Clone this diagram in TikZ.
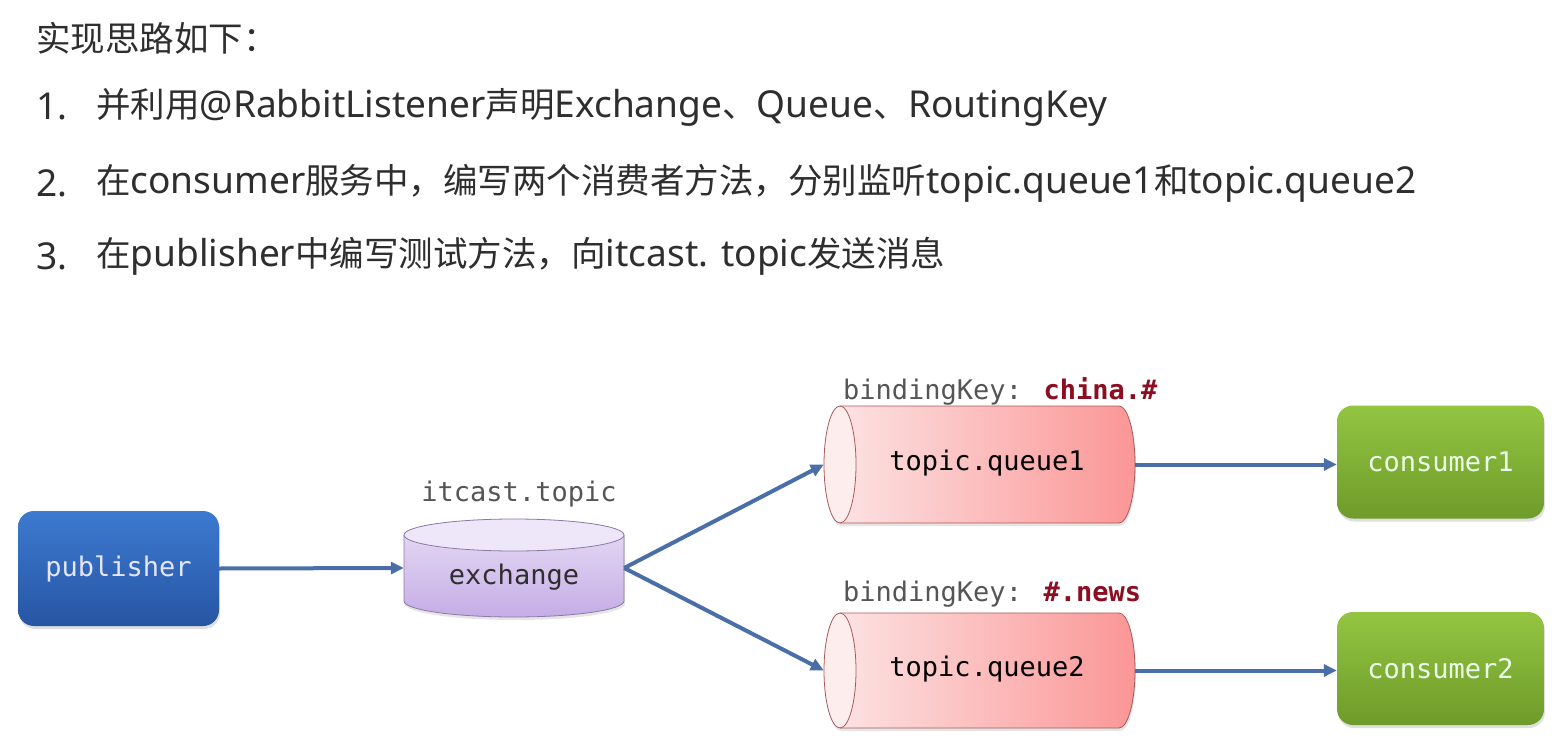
\documentclass[tikz,border=0pt]{standalone}
\usepackage{fontspec}
\setmainfont{Noto Sans CJK SC}
\newfontfamily\latf[Scale=1.075]{Noto Sans}
\newcommand\latn[1]{{\latf #1}}
\newfontfamily\monof{DejaVu Sans Mono}
\usetikzlibrary{arrows.meta,shadows}
\definecolor{arrowc}{HTML}{4A6FA8}
\definecolor{txtc}{HTML}{2E2E2E}
\definecolor{pubT}{HTML}{3C7AD0}
\definecolor{pubB}{HTML}{2755A3}
\definecolor{conT}{HTML}{93C541}
\definecolor{conB}{HTML}{6E9B2A}
\definecolor{qL}{HTML}{FDE6E6}
\definecolor{qR}{HTML}{FB9696}
\definecolor{qF}{HTML}{FDEDED}
\definecolor{qB}{HTML}{A85A5A}
\definecolor{exT}{HTML}{E8DDF6}
\definecolor{exB}{HTML}{C5ADE6}
\definecolor{exF}{HTML}{EEE6F9}
\definecolor{exD}{HTML}{8A7AA6}
\definecolor{lblc}{HTML}{555555}
\definecolor{keyc}{HTML}{8B0E22}
\begin{document}
\begin{tikzpicture}[x=1pt,y=-1pt,
  arr/.style={draw=arrowc, line width=4pt, -{Triangle[length=13pt,width=12pt]}},
  mono/.style={font=\monof\fontsize{27}{32}\selectfont},
  txt/.style={anchor=west, inner sep=0pt, text=txtc, font=\fontsize{34.5}{40}\selectfont},
  box/.style={rounded corners=16pt, minimum width=201pt, minimum height=115pt, inner sep=0pt,
    drop shadow={opacity=0.25, shadow xshift=1pt, shadow yshift=-3pt}, mono},
  anch/.style={draw=none, inner sep=0pt},
  shad/.style={drop shadow={opacity=0.2, shadow xshift=1pt, shadow yshift=-3pt}}
]
\useasboundingbox (0,0) rectangle (1552,754);
\fill[white] (0,0) rectangle (1552,754);

% heading text
\node[txt] (t0) at (36,38) {实现思路如下：};
\node[txt] (n1) at (36,107) {\latn{1.}};
\node[txt] (l1) at (96,107) {并利用\latn{@RabbitListener}声明\latn{Exchange}、\latn{Queue}、\latn{RoutingKey}};
\node[txt] (n2) at (36,183) {\latn{2.}};
\node[txt] (l2) at (96,183) {在\latn{consumer}服务中，编写两个消费者方法，分别监听\latn{topic.queue1}和\latn{topic.queue2}};
\node[txt] (n3) at (36,256) {\latn{3.}};
\node[txt] (l3) at (96,256) {在\latn{publisher}中编写测试方法，向\latn{itcast. topic}发送消息};

% publisher
\node[box, top color=pubT, bottom color=pubB, text=white!90!blue] (pub) at (118.5,568.5) {publisher};

% exchange cylinder
\shade[top color=exT, bottom color=exB, shad] (404,535) -- (404,601)
  arc[start angle=180, end angle=360, x radius=110pt, y radius=16pt] -- (624,535)
  arc[start angle=0, end angle=180, x radius=110pt, y radius=16pt] -- cycle;
\draw[exD, line width=0.8pt] (404,535) -- (404,601)
  arc[start angle=180, end angle=360, x radius=110pt, y radius=16pt] -- (624,535);
\filldraw[fill=exF, draw=exD, line width=0.8pt] (514,535) ellipse[x radius=110pt, y radius=16pt];
\node[anch, minimum width=220pt, minimum height=98pt] (ex) at (514,568) {};
\node[mono, text=txtc] (exl) at (514,577) {exchange};
\node[mono, text=lblc] (exn) at (519,494) {itcast.topic};

% queue1
\shade[left color=qL, right color=qR, shad] (840,406) -- (1119,406)
  arc[start angle=90, end angle=-90, x radius=16pt, y radius=58.5pt] -- (840,523)
  arc[start angle=-90, end angle=-270, x radius=16pt, y radius=58.5pt] -- cycle;
\draw[qB, line width=0.8pt] (840,406) -- (1119,406)
  arc[start angle=90, end angle=-90, x radius=16pt, y radius=58.5pt] -- (840,523);
\filldraw[fill=qF, draw=qB, line width=0.8pt] (840,464.5) ellipse[x radius=16pt, y radius=58.5pt];
\node[anch, minimum width=311pt, minimum height=117pt] (q1) at (979.5,464.5) {};
\node[mono, text=black] (q1l) at (987,463) {topic.queue1};
\node[mono, text=lblc, anchor=base west, inner sep=0pt] (k1) at (843,399) {bindingKey: \textcolor{keyc}{\textbf{china.\#}}};

% queue2
\shade[left color=qL, right color=qR, shad] (840,613) -- (1119,613)
  arc[start angle=90, end angle=-90, x radius=16pt, y radius=57.5pt] -- (840,728)
  arc[start angle=-90, end angle=-270, x radius=16pt, y radius=57.5pt] -- cycle;
\draw[qB, line width=0.8pt] (840,613) -- (1119,613)
  arc[start angle=90, end angle=-90, x radius=16pt, y radius=57.5pt] -- (840,728);
\filldraw[fill=qF, draw=qB, line width=0.8pt] (840,670.5) ellipse[x radius=16pt, y radius=57.5pt];
\node[anch, minimum width=311pt, minimum height=115pt] (q2) at (979.5,670.5) {};
\node[mono, text=black] (q2l) at (987,669) {topic.queue2};
\node[mono, text=lblc, anchor=base west, inner sep=0pt] (k2) at (843,601) {bindingKey: \textcolor{keyc}{\textbf{\#.news}}};

% consumers
\node[box, minimum width=207pt, minimum height=113pt, top color=conT, bottom color=conB, text=green!8!white] (c1) at (1440.5,462) {consumer1};
\node[box, minimum width=207pt, minimum height=113pt, top color=conT, bottom color=conB, text=green!8!white] (c2) at (1440.5,668.5) {consumer2};

% connectors
\draw[arr] (pub.east) -- (ex.west);
\draw[arr] (ex.east) -- (q1.west);
\draw[arr] (ex.east) -- (q2.west);
\draw[arr] (q1.east) -- (c1.west |- q1.east);
\draw[arr] (q2.east) -- (c2.west |- q2.east);
\end{tikzpicture}
\end{document}
